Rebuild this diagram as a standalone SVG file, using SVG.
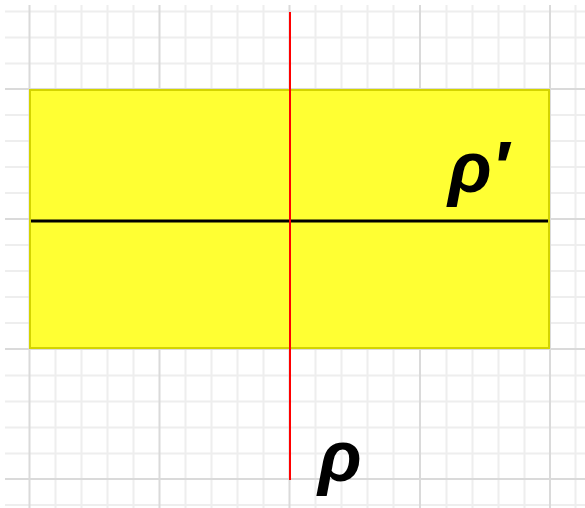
<svg xmlns="http://www.w3.org/2000/svg" width="585" height="508" viewBox="0 0 585 508">
<style>
.minor{stroke:#eeeeee;stroke-width:2}
.major{stroke:#dadada;stroke-width:2}
.lbl{font-family:"Liberation Sans",Arial,sans-serif;font-weight:bold;font-style:italic;font-size:72px;fill:#000}
</style>
<rect width="585" height="508" fill="#fff"/>
<g id="grid">
<g class="minor">
<path d="M55.5 5V508M81.5 5V508M107.5 5V508M133.5 5V508M185.5 5V508M211.5 5V508M237.5 5V508M263.5 5V508M315.5 5V508M341.5 5V508M367.5 5V508M393.5 5V508M446.5 5V508M472.5 5V508M498.5 5V508M524.5 5V508M575.5 5V508"/>
<path d="M5 11.5H585M5 37.5H585M5 63.5H585M5 115H585M5 141H585M5 167H585M5 193H585M5 245H585M5 271H585M5 297H585M5 323H585M5 375.5H585M5 401.5H585M5 427.5H585M5 453.5H585M5 505H585"/>
</g>
<g class="major">
<path d="M29.5 5V508M159.5 5V508M289.5 5V508M420 5V508M550 5V508"/>
<path d="M5 89H585M5 219H585M5 349H585M5 479H585"/>
</g>
</g>
<g id="region">
<rect x="30" y="90" width="519" height="258" fill="#ffff33" stroke="#d4d400" stroke-width="2"/>
</g>
<g id="connectors">
<line x1="31" y1="221" x2="548" y2="221" stroke="#000" stroke-width="3"/>
<line x1="290" y1="12" x2="290" y2="480" stroke="#ff0000" stroke-width="2"/>
</g>
<g id="label-top">
<text class="lbl" x="448" y="192">ρ′</text>
</g>
<g id="label-bottom">
<text class="lbl" x="318" y="481">ρ</text>
</g>
</svg>
